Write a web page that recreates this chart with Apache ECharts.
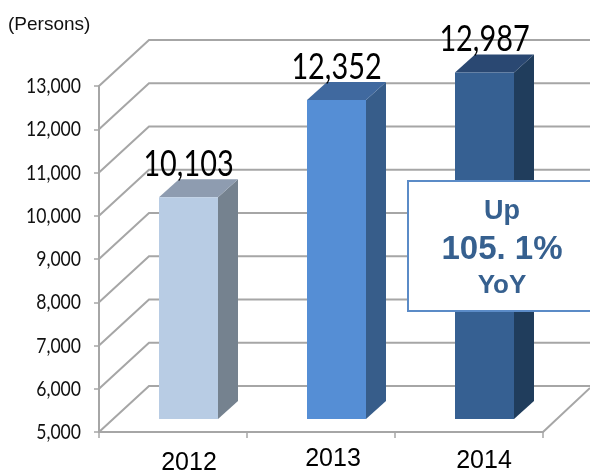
<!DOCTYPE html>
<html><head><meta charset="utf-8">
<style>html,body{margin:0;padding:0;background:#fff}#c{width:590px;height:473px}</style>
<script src="https://cdn.jsdelivr.net/npm/echarts@6/dist/echarts.min.js"></script>
</head><body><div id="c"></div>
<script>
const categories = ['2012', '2013', '2014'];
const persons = [10103, 12352, 12987];
const yTicks = [5000, 6000, 7000, 8000, 9000, 10000, 11000, 12000, 13000];
const frontColors = ['#b8cce4', '#558ed5', '#366092'];
const topColors = ['#8e9cb0', '#40699f', '#2a4872'];
const sideColors = ['#75828f', '#375d8a', '#203d5c'];
const labelOffsets = [[16, 0], [12, -2], [15, -1]];

const WALL_DX = 50, WALL_DY = -46;
const BAR_DX = 15.5, BAR_DY = -13, BAR_W = 59, DEPTH_X = 20, DEPTH_Y = -18;
const fmt = v => v.toLocaleString('en-US');
const lato = 'Lato,"Liberation Sans",sans-serif';
const arial = '"Liberation Sans",Arial,sans-serif';
const GRID = '#a6a6a6';

const chart = echarts.init(document.getElementById('c'), null, {renderer: 'canvas'});
const rich = {};
categories.forEach((c, i) => {
  rich['y' + c] = {
    fontFamily: arial, fontSize: 25, color: '#000',
    padding: [labelOffsets[i][1] * 2 + 4, 0, 0, labelOffsets[i][0] * 2]
  };
});

chart.setOption({
  animation: false,
  backgroundColor: '#fff',
  grid: {left: 99, top: 86, width: 444, height: 346, outerBoundsMode: 'none', containLabel: false},
  xAxis: {
    type: 'category', data: categories,
    axisLine: {lineStyle: {color: GRID, width: 2}},
    axisTick: {show: true, length: 6, lineStyle: {color: GRID, width: 1.5}},
    axisLabel: {margin: 15, interval: 0, formatter: v => '{y' + v + '|' + v + '}', rich}
  },
  yAxis: {
    type: 'value', min: 5000, max: 13000, interval: 1000,
    axisLine: {show: true, lineStyle: {color: GRID, width: 2}},
    axisTick: {show: true, length: 5, lineStyle: {color: GRID, width: 1.5}},
    splitLine: {show: false},
    axisLabel: {show: false}
  },
  series: [
    {
      type: 'custom', z: 1, silent: true, clip: false,
      data: yTicks,
      encode: {y: 0},
      renderItem(params, api) {
        const v = api.value(0);
        const cs = params.coordSys;
        const y = api.coord([0, v])[1];
        const pts = [[cs.x, y], [cs.x + WALL_DX, y + WALL_DY], [590, y + WALL_DY]];
        const children = [
          {type: 'polyline', shape: {points: pts}, style: {stroke: GRID, lineWidth: 2, fill: null}},
          {type: 'text', x: cs.x - 18, y: y, scaleX: 0.8,
            style: {text: fmt(v), fill: '#111', fontSize: 22, fontFamily: lato, align: 'right', verticalAlign: 'middle'}}
        ];
        if (v === yTicks[0]) {
          children.push({type: 'line',
            shape: {x1: cs.x + cs.width, y1: y, x2: cs.x + cs.width + 47, y2: y - 44},
            style: {stroke: GRID, lineWidth: 2}});
        }
        return {type: 'group', children};
      }
    },
    {
      type: 'custom', z: 2, silent: true, clip: false,
      data: persons.map((v, i) => [i, v]),
      encode: {x: 0, y: 1},
      renderItem(params, api) {
        const i = api.value(0);
        const v = api.value(1);
        const cx = api.coord([i, v])[0] + BAR_DX;
        const b = api.coord([i, yTicks[0]])[1] + BAR_DY;
        const t = api.coord([i, v])[1] + BAR_DY - 1;
        const l = cx - BAR_W / 2, r = cx + BAR_W / 2;
        return {type: 'group', children: [
          {type: 'polygon', shape: {points: [[r, t], [r + DEPTH_X, t + DEPTH_Y], [r + DEPTH_X, b + DEPTH_Y], [r, b]]},
            style: {fill: sideColors[i]}},
          {type: 'polygon', shape: {points: [[l, t], [l + DEPTH_X, t + DEPTH_Y], [r + DEPTH_X, t + DEPTH_Y], [r, t]]},
            style: {fill: topColors[i]}},
          {type: 'rect', shape: {x: l, y: t, width: BAR_W, height: b - t},
            style: {fill: frontColors[i]}},
          {type: 'text', x: cx, y: t - 33, scaleX: 0.78, z2: 50,
            style: {text: fmt(v), fill: '#000', fontSize: 37, fontFamily: lato, align: 'center', verticalAlign: 'middle'}}
        ]};
      }
    }
  ],
  graphic: [
    {type: 'text', left: 8, top: 15, style: {text: '(Persons)', fontSize: 19, fill: '#111', fontFamily: arial}},
    {type: 'rect', z: 100, shape: {x: 408, y: 181, width: 190, height: 130},
      style: {fill: '#fff', stroke: '#5b8bc7', lineWidth: 2}},
    {type: 'text', z: 101, x: 502, y: 212, style: {text: 'Up', fontSize: 27, fontWeight: 'bold', fill: '#36608f', align: 'center', verticalAlign: 'middle', fontFamily: arial}},
    {type: 'text', z: 101, x: 502, y: 250, style: {text: '105. 1%', fontSize: 33, fontWeight: 'bold', fill: '#36608f', align: 'center', verticalAlign: 'middle', fontFamily: arial}},
    {type: 'text', z: 101, x: 502, y: 286, style: {text: 'YoY', fontSize: 26, fontWeight: 'bold', fill: '#36608f', align: 'center', verticalAlign: 'middle', fontFamily: arial}}
  ]
});
</script></body></html>
